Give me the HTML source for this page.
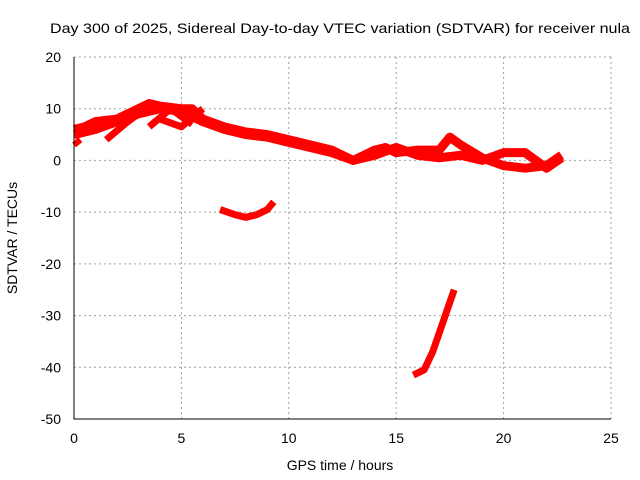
<!DOCTYPE html>
<html><head><meta charset="utf-8"><style>
body{margin:0;background:#fff;}
svg{display:block;font-family:"Liberation Sans",sans-serif;}
</style></head><body>
<svg id="chart" width="640" height="480">
<text x="340" y="33" text-anchor="middle" font-size="14" textLength="580" lengthAdjust="spacingAndGlyphs">Day 300 of 2025, Sidereal Day-to-day VTEC variation (SDTVAR) for receiver nula</text>
<text x="340" y="470" text-anchor="middle" font-size="14">GPS time / hours</text>
<text transform="translate(17,238) rotate(-90)" text-anchor="middle" font-size="14">SDTVAR / TECUs</text>
<g id="grid"></g><g id="series"></g><g id="axes"></g>
</svg>
<script>
const xTicks=[0,5,10,15,20,25];
const yTicks=[20,10,0,-10,-20,-30,-40,-50];
const mainX=[0,0.5,1,2,3,3.5,4,5,5.5,6,7,8,9,10,11,12,12.5,13,13.5,14,14.5,15,16,17,17.5,18,19,20,21,22,22.7];
const mainY=[6,6.5,7.5,8,10,11,10.5,10,10,8,6.5,5.5,5,4,3,2,1,0,1,2,2.5,1.5,2,2,4.5,3,0.5,-1,-1.5,-1,1];
const lowX=[0,1,2,3,4,5,6,7,8,9,10,11,12,13,14,15,16,17,18,19,20,21,22,22.7];
const lowY=[5,6,7.5,9,10,9.5,7.5,6,5,4.5,3.5,2.5,1.5,0,1,2.5,1,0.5,1,0,1.5,1.5,-1.5,0.5];
const br1X=[1.5,2.5,3,4.5];const br1Y=[4,7.5,9,10.5];
const br2X=[3.5,4.5,5.5];const br2Y=[6.5,10,7];
const br3X=[4,5,6];const br3Y=[8,6.5,10];
const br4X=[0,0.3];const br4Y=[3,4];
const arcX=[6.8,7.5,8,8.5,9,9.3];const arcY=[-9.5,-10.5,-11,-10.5,-9.5,-8];
const dropX=[15.8,16.3,16.7,17.2,17.7];const dropY=[-41.5,-40.5,-37,-31,-25];
const X0=74,X1=611,Y0=57,Y1=419;
const sx=v=>X0+(v-0)/25*(X1-X0);
const sy=v=>Y0+(20-v)/70*(Y1-Y0);
const NS='http://www.w3.org/2000/svg';
const grid=document.getElementById('grid'),axes=document.getElementById('axes'),ser=document.getElementById('series');
function mk(t,a,p){const e=document.createElementNS(NS,t);for(const k in a)e.setAttribute(k,a[k]);p.appendChild(e);return e;}
xTicks.forEach(v=>{
 const l=mk('line',{x1:sx(v),x2:sx(v),y1:Y0,y2:Y1,stroke:'#a0a0a0','stroke-dasharray':'2,3'},grid);
 
 
 const t=mk('text',{x:sx(v),y:Y1+24,'text-anchor':'middle','font-size':14},axes);t.textContent=v;
 
 
});
yTicks.forEach(v=>{
 const l=mk('line',{x1:X0,x2:X1,y1:sy(v),y2:sy(v),stroke:'#a0a0a0','stroke-dasharray':'2,3'},grid);
 
 
 const t=mk('text',{x:X0-13,y:sy(v)+5,'text-anchor':'end','font-size':14},axes);t.textContent=v;
 
 
});
const ax=mk('path',{d:`M${X0},${Y0}V${Y1}H${X1}`,fill:'none',stroke:'#000'},axes);


[[mainX,mainY,9],[lowX,lowY,9],[br1X,br1Y,7],[br2X,br2Y,7],[br3X,br3Y,7],[br4X,br4Y,6],[arcX,arcY,7],[dropX,dropY,7]].forEach(([xs,ys,w])=>{
 const p=mk('polyline',{points:xs.map((x,i)=>sx(x)+','+sy(ys[i])).join(' '),fill:'none',stroke:'#ff0000','stroke-width':w,'stroke-linejoin':'round'},ser);
 
 
});
</script>
</body></html>
